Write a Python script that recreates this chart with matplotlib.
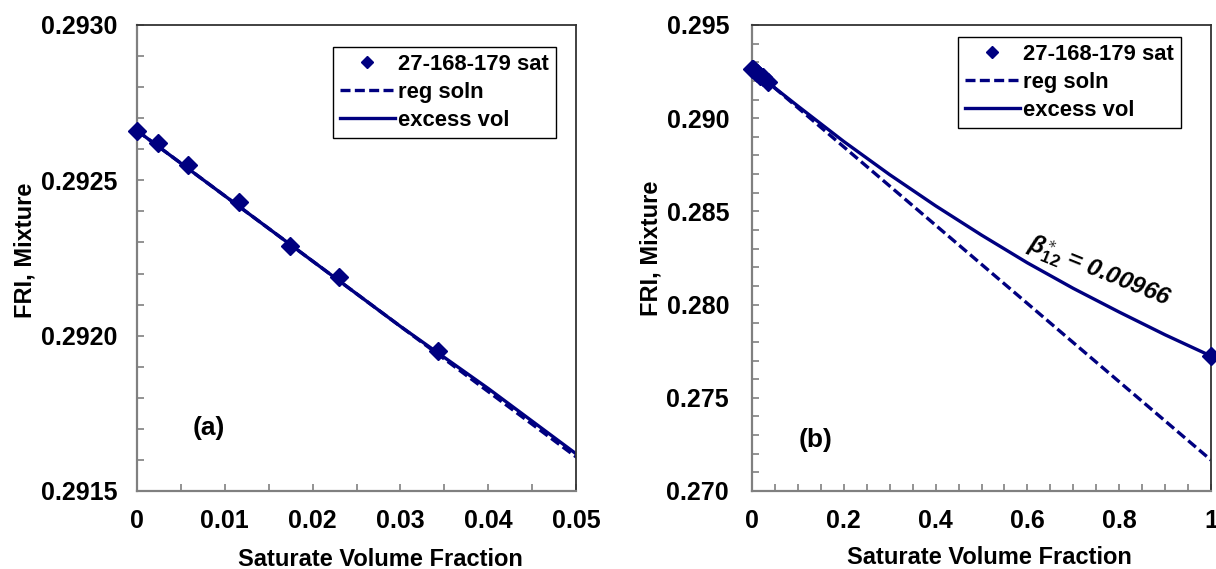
import matplotlib
matplotlib.use("Agg")
import matplotlib.pyplot as plt
from matplotlib.ticker import MultipleLocator, FormatStrFormatter, FuncFormatter

plt.rcParams['font.family'] = ['Liberation Sans', 'DejaVu Sans']
plt.rcParams['font.weight'] = 'bold'
plt.rcParams['mathtext.fontset'] = 'custom'
plt.rcParams['mathtext.it'] = 'Liberation Sans:italic:bold'
plt.rcParams['mathtext.rm'] = 'Liberation Sans:bold'
plt.rcParams['mathtext.bf'] = 'Liberation Sans:bold'

# measured saturate volume fractions and mixture FRI
sat_frac = [0.0, 0.00236, 0.00584, 0.01165, 0.01743, 0.02304, 0.03425, 1.0]
fri_meas = [0.29266, 0.29262, 0.29255, 0.29243, 0.29229, 0.29219, 0.29195, 0.27724]

# regular-solution prediction
reg_x = [0.0, 1.0]
reg_y = [0.29266, 0.27166]

# excess-volume model
exc_x = [0.0, 0.01, 0.02, 0.03, 0.04, 0.05, 0.1, 0.2, 0.3, 0.4, 0.5, 0.6, 0.7, 0.8, 0.9, 1.0]
exc_y = [0.29266, 0.29245, 0.29224, 0.29203, 0.29183, 0.29162, 0.29065, 0.28875,
         0.28697, 0.28530, 0.28373, 0.28224, 0.28087, 0.27960, 0.27838, 0.27724]

series_label = '27-168-179 sat'
NAVY = '#000080'
FS = 17
TICK_FS = 18

W, H = 1216, 569
fig = plt.figure(figsize=(W / 100, H / 100), dpi=100)
ax1 = fig.add_axes([137 / W, 78 / H, 439 / W, 466 / H])
ax2 = fig.add_axes([752 / W, 78 / H, 459 / W, 466 / H])


def draw(ax):
    ax.plot(reg_x, reg_y, color=NAVY, lw=2.4, ls=(0, (3, 1.3)), label='reg soln', zorder=2)
    ax.plot(exc_x, exc_y, color=NAVY, lw=2.4, ls='-', label='excess vol', zorder=2)
    ax.plot(sat_frac, fri_meas, ls='none', marker='D', ms=9, color=NAVY,
            label=series_label, zorder=3, clip_on=False)


def style(ax, ypad):
    for side in ('left', 'bottom'):
        ax.spines[side].set_color('#808080')
        ax.spines[side].set_linewidth(1.6)
    for side in ('top', 'right'):
        ax.spines[side].set_color('#333333')
        ax.spines[side].set_linewidth(1.3)
    ax.tick_params(which='both', direction='in', length=5, width=1.2, color='#808080',
                   top=False, right=False, labelsize=TICK_FS)
    ax.tick_params(axis='y', which='both', pad=ypad)
    ax.tick_params(axis='x', which='both', pad=13)
    for lab in ax.get_xticklabels() + ax.get_yticklabels():
        lab.set_fontweight('bold')


def legend(ax, anchor):
    h, l = ax.get_legend_handles_labels()
    order = [2, 0, 1]
    leg = ax.legend([h[i] for i in order], [l[i] for i in order],
                    loc='upper left', bbox_to_anchor=anchor, bbox_transform=fig.transFigure,
                    fancybox=False, framealpha=1, edgecolor='black', fontsize=15.8,
                    handlelength=2.5, handletextpad=0.15, borderpad=0.32, labelspacing=0.32,
                    markerscale=0.65, numpoints=1, borderaxespad=0)
    leg.get_frame().set_linewidth(1.0)
    for t in leg.get_texts():
        t.set_fontweight('bold')


# panel (a)
draw(ax1)
ax1.set_xlim(0, 0.05)
ax1.set_ylim(0.2915, 0.2930)
ax1.xaxis.set_major_locator(MultipleLocator(0.01))
ax1.xaxis.set_minor_locator(MultipleLocator(0.005))
ax1.yaxis.set_major_locator(MultipleLocator(0.0005))
ax1.yaxis.set_minor_locator(MultipleLocator(0.0001))
ax1.xaxis.set_major_formatter(FuncFormatter(lambda v, p: '0' if abs(v) < 1e-12 else f'{v:.2f}'))
ax1.yaxis.set_major_formatter(FormatStrFormatter('%.4f'))
style(ax1, 14)
ax1.set_xlabel('Saturate Volume Fraction', fontsize=FS, fontweight='bold')
ax1.set_ylabel('FRI, Mixture', fontsize=FS, fontweight='bold')
ax1.xaxis.set_label_coords(0.5535, -0.122)
ax1.yaxis.set_label_coords(-0.228, 0.517)
ax1.text(0.164, 0.135, '(a)', transform=ax1.transAxes, fontsize=19, fontweight='bold',
         ha='center', va='center')
legend(ax1, (333 / W, 1 - 47 / H))

# panel (b)
draw(ax2)
ax2.set_xlim(0, 1)
ax2.set_ylim(0.270, 0.295)
ax2.xaxis.set_major_locator(MultipleLocator(0.2))
ax2.xaxis.set_minor_locator(MultipleLocator(0.05))
ax2.yaxis.set_major_locator(MultipleLocator(0.005))
ax2.yaxis.set_minor_locator(MultipleLocator(0.001))
ax2.xaxis.set_major_formatter(FuncFormatter(lambda v, p: '0' if abs(v) < 1e-12 else ('1' if abs(v - 1) < 1e-12 else f'{v:.1f}')))
ax2.yaxis.set_major_formatter(FormatStrFormatter('%.3f'))
style(ax2, 16.5)
ax2.set_xlabel('Saturate Volume Fraction', fontsize=FS, fontweight='bold')
ax2.set_ylabel('FRI, Mixture', fontsize=FS, fontweight='bold')
ax2.xaxis.set_label_coords(0.5176, -0.118)
ax2.yaxis.set_label_coords(-0.196, 0.521)
ax2.text(0.139, 0.11, '(b)', transform=ax2.transAxes, fontsize=19, fontweight='bold',
         ha='center', va='center')
legend(ax2, (958 / W, 1 - 37 / H))

fig.text(1099 / W, 1 - 272 / H, r'$\beta^{\ast}_{12}$ = 0.00966', fontsize=17.5, fontweight='bold',
         fontstyle='italic', rotation=-22, rotation_mode='anchor', ha='center', va='center')

fig.savefig('out.png', dpi=100)
